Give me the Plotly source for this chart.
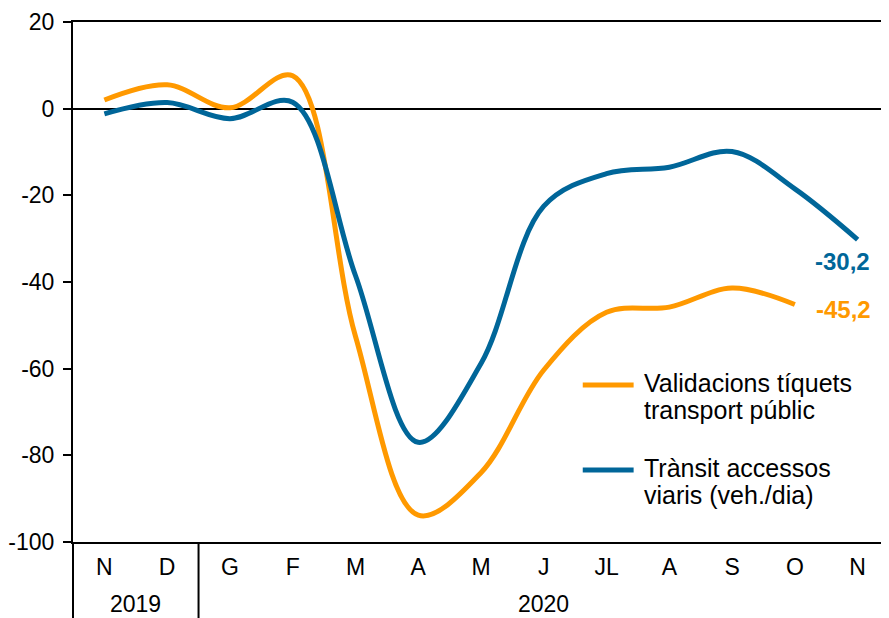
import plotly.graph_objects as go

months = ["N", "D", "G", "F", "M", "A", "M", "J", "JL", "A", "S", "O", "N"]
years = ["2019", "2019", "2020", "2020", "2020", "2020", "2020", "2020", "2020", "2020", "2020", "2020", "2020"]
validacions = [2.0, 5.5, 0.2, 7.6, -52.5, -93.8, -84.0, -60.3, -47.0, -45.8, -41.4, -45.2, None]
transit = [-1.2, 1.4, -2.3, 1.5, -38.5, -77.0, -58.8, -22.5, -15.0, -13.5, -9.9, -18.5, -30.2]
legend_valid = ["Validacions tíquets", "transport públic"]
legend_transit = ["Trànsit accessos", "viaris (veh./dia)"]
y_ticks = [20, 0, -20, -40, -60, -80, -100]
y_ticklabels = ["20", "0", "-20", "-40", "-60", "-80", "-100"]

ORANGE = "#FF9900"
BLUE = "#006699"
FONT = "Liberation Sans, Arial, sans-serif"

# the page body has an 8px margin; figure is sized so the plot area lands where the reference has it
OFF = 8
PLOT_L, PLOT_T, PLOT_W, PLOT_H = 71, 22, 818, 520
FIG_W, FIG_H = 889 - OFF, 618 - OFF

def px_x(p):
    return (p - PLOT_L) / PLOT_W

def px_y(p):
    return (PLOT_T + PLOT_H - p) / PLOT_H

x = list(range(len(months)))

fig = go.Figure()
fig.add_trace(go.Scatter(x=x, y=validacions, mode="lines", name=" ".join(legend_valid),
                         line=dict(color=ORANGE, width=5, shape="spline", smoothing=1),
                         connectgaps=False, showlegend=False))
fig.add_trace(go.Scatter(x=x, y=transit, mode="lines", name=" ".join(legend_transit),
                         line=dict(color=BLUE, width=5, shape="spline", smoothing=1),
                         showlegend=False))

# last-value labels
iv = max(i for i, v in enumerate(validacions) if v is not None)
it = max(i for i, v in enumerate(transit) if v is not None)
ann = [
    dict(x=it, y=transit[it], xref="x", yref="y", text=f"<b>{transit[it]:.1f}</b>".replace(".", ","),
         showarrow=False, xshift=-15, yshift=-22, font=dict(color=BLUE, size=24, family=FONT)),
    dict(x=iv, y=validacions[iv], xref="x", yref="y", text=f"<b>{validacions[iv]:.1f}</b>".replace(".", ","),
         showarrow=False, xshift=49, yshift=-5, font=dict(color=ORANGE, size=24, family=FONT)),
]

# year labels
band = -76 / PLOT_H
for yr in dict.fromkeys(years):
    idx = [i for i, y in enumerate(years) if y == yr]
    ann.append(dict(x=(idx[0] + idx[-1]) / 2, y=px_y(604), xref="x", yref="paper",
                    text=yr, showarrow=False, yanchor="middle",
                    font=dict(size=23, family=FONT, color="black")))

# manual legend
legend_items = [(legend_valid, ORANGE, 385), (legend_transit, BLUE, 470)]
shapes = []
for lines, col, ypix in legend_items:
    shapes.append(dict(type="line", xref="paper", yref="paper", x0=px_x(582), x1=px_x(633),
                       y0=px_y(ypix), y1=px_y(ypix), line=dict(color=col, width=5)))
    for k, txt in enumerate(lines):
        ann.append(dict(x=px_x(641), y=px_y(ypix - 2 + 27 * k), xref="paper", yref="paper", text=txt,
                        showarrow=False, xanchor="left", yanchor="middle", align="left",
                        font=dict(size=25, family=FONT, color="black")))

# axis extension and year divider
shapes.append(dict(type="line", xref="paper", yref="paper", x0=0, x1=0, y0=0, y1=band,
                   line=dict(color="black", width=2)))
boundary = [i for i in range(1, len(years)) if years[i] != years[i - 1]]
for b in boundary:
    shapes.append(dict(type="line", xref="x", yref="paper", x0=b - 0.5, x1=b - 0.5, y0=0, y1=band,
                       line=dict(color="black", width=2)))

fig.update_layout(
    width=FIG_W, height=FIG_H,
    margin=dict(l=PLOT_L - OFF, r=FIG_W - (PLOT_L - OFF) - PLOT_W, t=PLOT_T - OFF,
                b=FIG_H - (PLOT_T - OFF) - PLOT_H, pad=0),
    paper_bgcolor="white", plot_bgcolor="white",
    font=dict(family=FONT, size=23, color="black"),
    annotations=ann, shapes=shapes, showlegend=False,
    xaxis=dict(range=[-0.5, len(months) - 0.5], tickmode="array", tickvals=x, ticktext=months,
               showgrid=False, zeroline=False, showline=True, linecolor="black", linewidth=2,
               mirror=True, ticks="", ticklabelstandoff=3,
               tickfont=dict(size=23, family=FONT, color="black")),
    yaxis=dict(range=[-100, 20], tickmode="array", tickvals=y_ticks, ticktext=y_ticklabels,
               showgrid=False, zeroline=True,
               zerolinecolor="black", zerolinewidth=2, showline=True, linecolor="black", linewidth=2,
               ticks="outside", ticklen=8, tickwidth=2, tickcolor="black", ticklabelstandoff=4,
               tickfont=dict(size=23, family=FONT, color="black")),
)

fig.write_html("out.html")
